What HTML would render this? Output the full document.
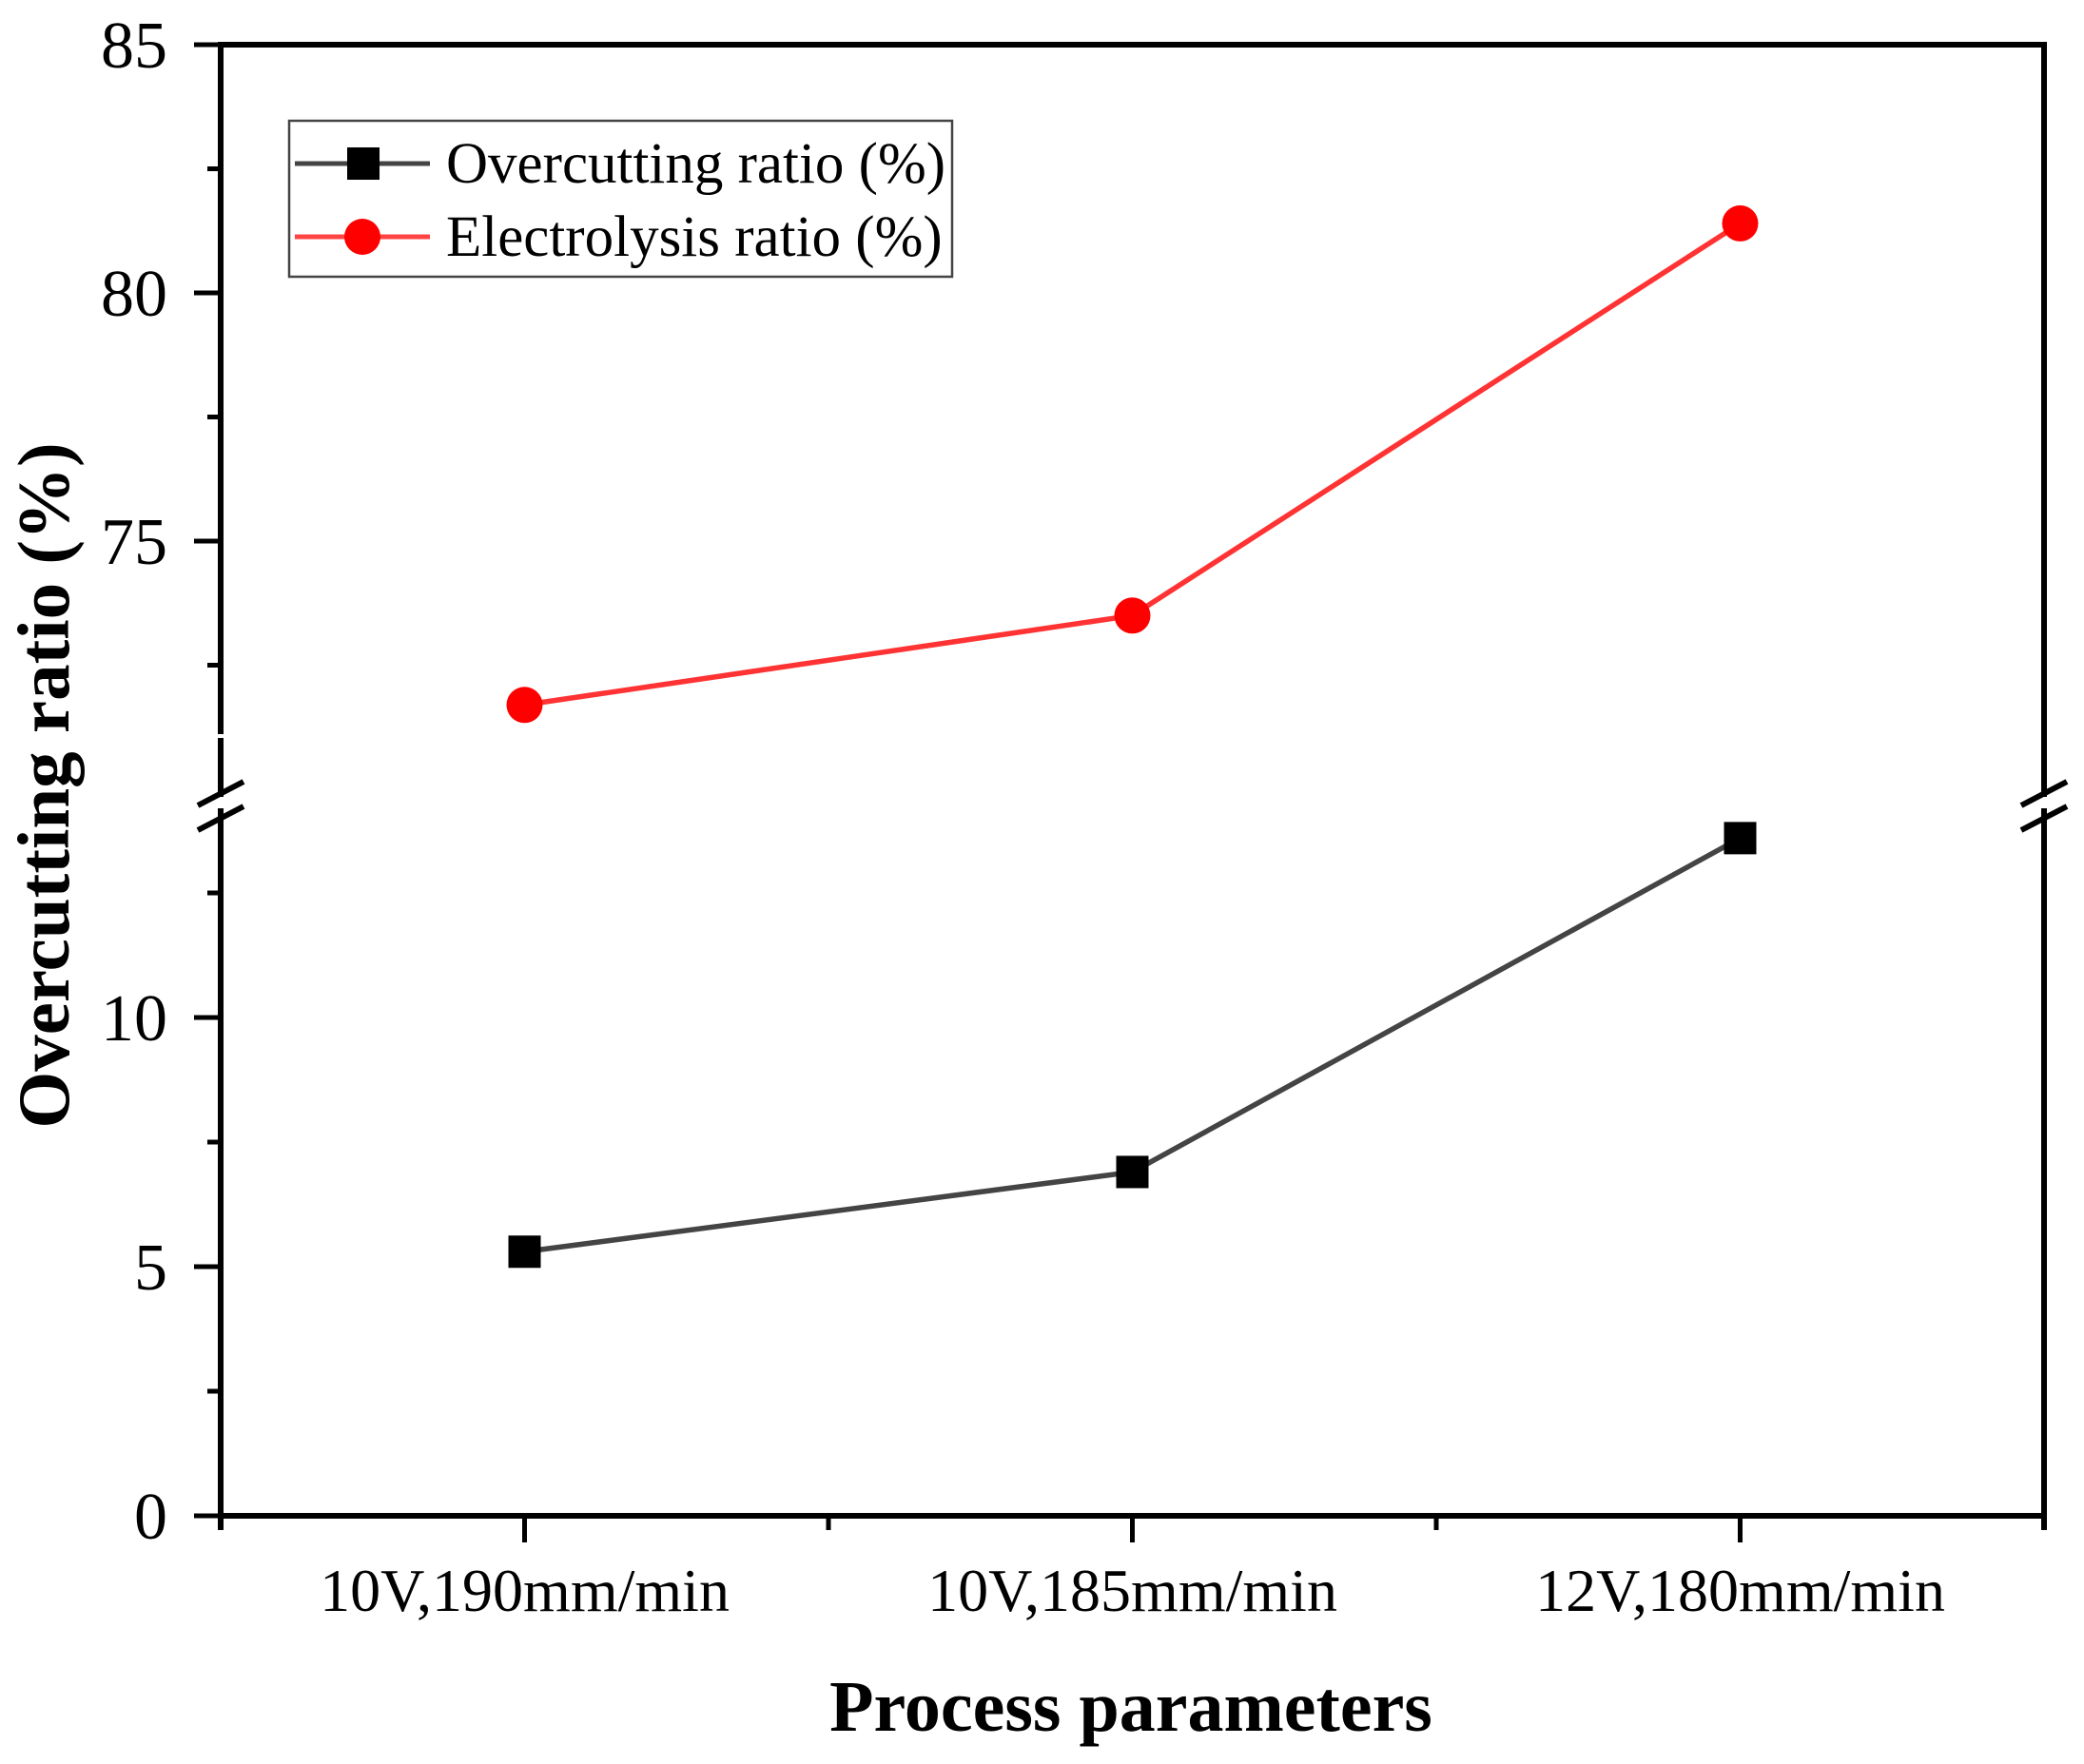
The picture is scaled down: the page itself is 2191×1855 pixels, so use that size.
<!DOCTYPE html>
<html><head><meta charset="utf-8"><style>
html,body{margin:0;padding:0;background:#fff;}
svg{display:block;}
text{font-family:"Liberation Serif","DejaVu Serif",serif;fill:#000;}
</style></head><body>
<svg id="chart" width="2191" height="1855" viewBox="0 0 2191 1855" xmlns="http://www.w3.org/2000/svg">
<g id="axes"></g>
<g id="series"></g>
<g id="legend">
  <rect x="304" y="127" width="697" height="164" fill="#fff" stroke="#444" stroke-width="2.5"/>
  <g>
    <line x1="310" y1="172" x2="452" y2="172" stroke="#444" stroke-width="5"/>
    <rect x="365" y="155" width="34" height="34" fill="#000"/>
    <text x="469" y="192" font-size="61">Overcutting ratio (%)</text>
  </g>
  <g>
    <line x1="310" y1="249" x2="452" y2="249" stroke="#f44" stroke-width="5"/>
    <circle cx="381" cy="249" r="19" fill="#f00"/>
    <text x="469" y="269" font-size="61">Electrolysis ratio (%)</text>
  </g>
</g>
<text x="1189" y="1820" font-size="76" font-weight="bold" text-anchor="middle">Process parameters</text>
<text transform="translate(72,826) rotate(-90)" font-size="77" font-weight="bold" text-anchor="middle">Overcutting ratio (%)</text>
</svg>
<script>
const categories = ["10V,190mm/min", "10V,185mm/min", "12V,180mm/min"];
const overcutting = [5.3, 6.9, 13.6];
const electrolysis = [71.7, 73.5, 81.4];
const upperTicks = [75, 80, 85];
const upperMinor = [72.5, 77.5, 82.5];
const lowerTicks = [0, 5, 10];
const lowerMinor = [2.5, 7.5, 12.5];

const NS = "http://www.w3.org/2000/svg";
const X0 = 232, X1 = 2149, TOP = 47, BOT = 1594;
const catW = (X1 - X0) / categories.length;
function xPos(i){ return X0 + catW * (i + 0.5); }
function yUpper(v){ return TOP + 52.2 * (85 - v); }
function yLower(v){ return BOT - 52.4 * v; }
function mk(tag, attrs, parent){ const e = document.createElementNS(NS, tag); for (const k in attrs) e.setAttribute(k, attrs[k]); parent.appendChild(e); return e; }

const axes = document.getElementById('axes');
let l;
l = mk('line', {x1:X0-3, y1:TOP, x2:X1+3, y2:TOP, stroke:'#000', 'stroke-width':6}, axes);


l = mk('line', {x1:X0-3, y1:BOT, x2:X1+3, y2:BOT, stroke:'#000', 'stroke-width':6}, axes);


l = mk('path', {d:`M${X0},${TOP} V772 M${X0},776 V838 M${X0},850 V${BOT+15}`, stroke:'#000', 'stroke-width':6, fill:'none'}, axes);


l = mk('path', {d:`M${X1},${TOP} V838 M${X1},850 V${BOT+15}`, stroke:'#000', 'stroke-width':6, fill:'none'}, axes);


[X0, X1].forEach(function(x){
  const b = mk('path', {d:`M${x-24},${847} L${x+24},${822} M${x-24},${873} L${x+24},${848}`, stroke:'#000', 'stroke-width':6, fill:'none'}, axes);
  
  
});
function yTick(y, len, label){
  const t = mk('line', {x1:X0-len, y1:y, x2:X0, y2:y, stroke:'#000', 'stroke-width':5}, axes);
  
  
  if (label !== null){
    const tx = mk('text', {x:176, y:y+24, 'font-size':70, 'text-anchor':'end'}, axes);
    tx.textContent = label;
    
    
  }
}
upperTicks.forEach(v => yTick(yUpper(v), 28, String(v)));
upperMinor.forEach(v => yTick(yUpper(v), 14, null));
lowerTicks.forEach(v => yTick(yLower(v), 28, String(v)));
lowerMinor.forEach(v => yTick(yLower(v), 14, null));
categories.forEach(function(c, i){
  const x = xPos(i);
  const t = mk('line', {x1:x, y1:BOT, x2:x, y2:BOT+28, stroke:'#000', 'stroke-width':5}, axes);
  
  
  const tx = mk('text', {x:x, y:1694, 'font-size':64, 'text-anchor':'middle'}, axes);
  tx.textContent = c;
  
  
});
for (let i = 0; i <= categories.length; i++){
  const x = X0 + catW * i;
  const t = mk('line', {x1:x, y1:BOT, x2:x, y2:BOT+15, stroke:'#000', 'stroke-width':5}, axes);
  
  
}

const series = document.getElementById('series');
const redPts = electrolysis.map((v,i) => [xPos(i), yUpper(v)]);
const blkPts = overcutting.map((v,i) => [xPos(i), yLower(v)]);
let p = mk('polyline', {points:redPts.map(q=>q.join(',')).join(' '), fill:'none', stroke:'#f33', 'stroke-width':5.5}, series);


p = mk('polyline', {points:blkPts.map(q=>q.join(',')).join(' '), fill:'none', stroke:'#444', 'stroke-width':5.5}, series);


redPts.forEach(function(q){
  const c = mk('circle', {cx:q[0], cy:q[1], r:19, fill:'#f00'}, series);
  
  
});
blkPts.forEach(function(q){
  const r = mk('rect', {x:q[0]-17, y:q[1]-17, width:34, height:34, fill:'#000'}, series);
  
  
});
</script>
</body></html>
